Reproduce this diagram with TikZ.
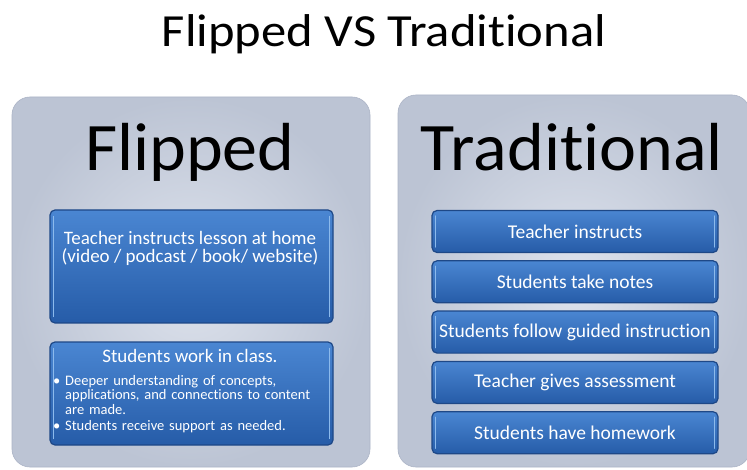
\documentclass[tikz,border=0pt]{standalone}
\usepackage{fontspec}
\setmainfont{Carlito}[Ligatures=NoCommon]
\newfontfamily\titlefont[FakeStretch=1.1,Ligatures=NoCommon]{Carlito}
\newfontfamily\namefont[FakeStretch=1.03,Ligatures=NoCommon]{Carlito}
\usetikzlibrary{positioning}

\definecolor{panelin}{RGB}{222,227,237}
\definecolor{panelout}{RGB}{188,196,212}
\definecolor{paneledge}{RGB}{172,180,198}
\definecolor{boxtop}{RGB}{74,134,210}
\definecolor{boxbot}{RGB}{38,92,168}
\definecolor{boxedge}{RGB}{30,72,135}
\definecolor{boxshine}{RGB}{140,186,236}

\newcommand{\fsz}[1]{\fontsize{#1}{#1}\selectfont}
\newcommand{\bulitem}{\noindent\hangindent=12pt\hangafter=1\makebox[12pt][l]{\textbullet}}

\tikzset{
  panel/.style={rounded corners=18pt, draw=paneledge, line width=0.6pt,
    inner color=panelin, outer color=panelout, inner sep=0pt},
  bluebox/.style={rounded corners=5pt, draw=boxedge, line width=1.2pt,
    top color=boxtop, bottom color=boxbot, text=white, inner sep=0pt},
  shine/.style={draw=boxshine, line width=1.2pt, line cap=round},
  bigname/.style={anchor=base, font=\namefont\fsz{68}, inner sep=0pt},
}

\begin{document}
\begin{tikzpicture}[x=1pt,y=-1pt]

    \useasboundingbox[fill=white] (0,0) rectangle (747,470);

    % draw title
    \node[anchor=base, font=\titlefont\fsz{46}, inner sep=0pt] (title) at (384,47) {Flipped VS Traditional};

    % draw the two panels
    \node[panel, minimum width=358pt, minimum height=370pt] (flippanel) at (191,282) {};
    \node[panel, minimum width=352pt, minimum height=372pt] (tradpanel) at (574,281) {};

    % draw panel names
    \node[bigname] (flipname) at (190,171) {Flipped};
    \node[bigname] (tradname) at (572,171) {Traditional};

    % draw flipped boxes
    \node[bluebox, minimum width=283pt, minimum height=113pt] (athome) at (191.5,266.5) {};
    \node[anchor=base, font=\fsz{19}, align=center, text=white, inner sep=0pt] (athometext) at (190,263)
      {Teacher instructs lesson at home\\[-1pt](video / podcast / book/ website)};
    \node[bluebox, minimum width=283pt, minimum height=103pt] (inclass) at (191.5,393.5) {};
    \node[anchor=base, font=\fsz{19}, text=white, inner sep=0pt] (inclasstext) at (190,362) {Students work in class.};
    \node[anchor=north west, font=\fsz{14.5}\linespread{1.0}\selectfont, text=white, text width=260pt,
      align=left, inner sep=0pt] (bullets) at (53,375)
      {\bulitem Deeper  understanding of concepts,\newline applications, and connections  to content\newline are made.\par\vspace{2pt}
       \bulitem Students receive  support as needed.};
    \foreach \b in {athome,inclass} {
      \draw[shine] ([xshift=4pt,yshift=-7pt]\b.north west) -- ([xshift=4pt,yshift=7pt]\b.south west);
      \draw[shine] ([xshift=-4pt,yshift=-7pt]\b.north east) -- ([xshift=-4pt,yshift=7pt]\b.south east);
    }

    % draw traditional boxes
    \foreach \i/\txt in {0/Teacher instructs, 1/Students take notes,
        2/Students follow guided instruction, 3/Teacher gives assessment,
        4/Students have homework} {
      \node[bluebox, minimum width=286pt, minimum height=42pt, font=\fsz{19.5}]
        (trad\i) at (575,231.5+50.3*\i) {\txt};
      \draw[shine] ([xshift=4pt,yshift=-6pt]trad\i.north west) -- ([xshift=4pt,yshift=6pt]trad\i.south west);
      \draw[shine] ([xshift=-4pt,yshift=-6pt]trad\i.north east) -- ([xshift=-4pt,yshift=6pt]trad\i.south east);
    }

\end{tikzpicture}
\end{document}
